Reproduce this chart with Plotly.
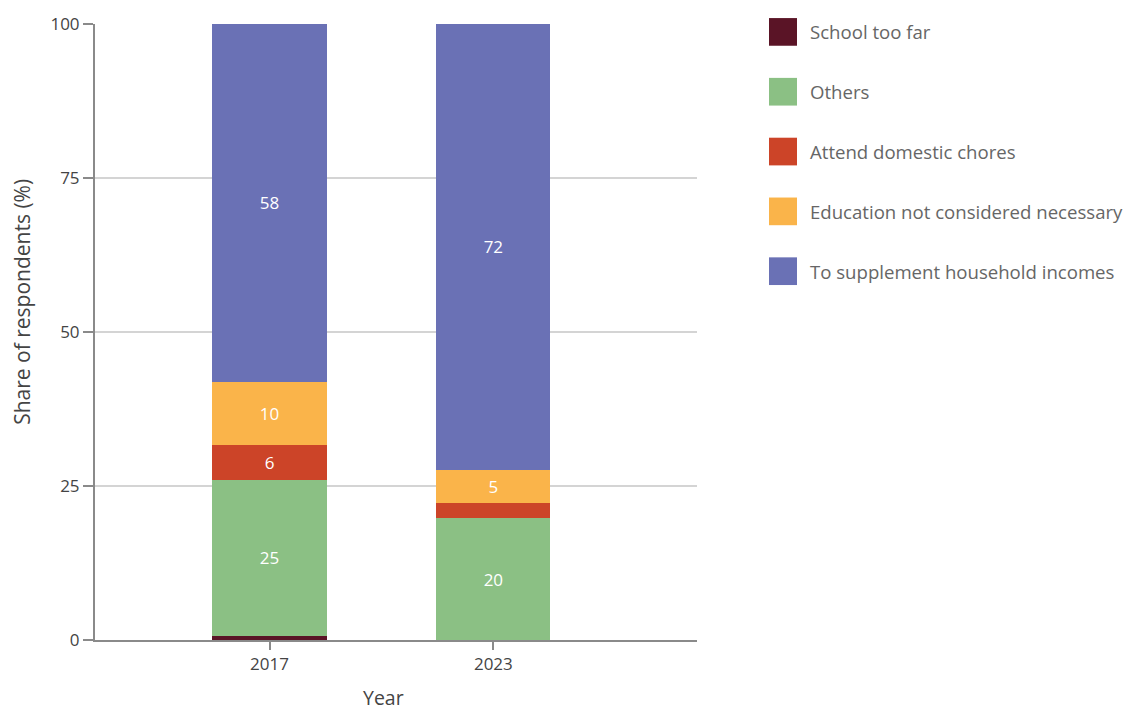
import plotly.graph_objects as go

# Survey years
years = ["2017", "2023"]

# Reasons for not attending school (share of respondents, %), stacked bottom to top
reasons = [
    "School too far",
    "Others",
    "Attend domestic chores",
    "Education not considered necessary",
    "To supplement household incomes",
]
school_too_far = [0.7, 0.0]
others = [25.3, 19.8]
domestic_chores = [5.6, 2.4]
education_not_necessary = [10.3, 5.4]
supplement_income = [58.1, 72.4]

series_values = [school_too_far, others, domestic_chores, education_not_necessary, supplement_income]
colors = ["#5a1426", "#8bc084", "#cc4428", "#fab44a", "#6a71b5"]

y_ticks = [0, 25, 50, 75, 100]

FONT = "'Open Sans', Lato, sans-serif"
W, H = 1128, 710
L, R, T, B = 95, 431, 17, 70

fig = go.Figure()
for name, vals, col in zip(reasons, series_values, colors):
    # only label segments tall enough to hold the number
    labels = [f"{v:.0f}" if v >= 4 else "" for v in vals]
    fig.add_trace(go.Bar(
        x=years, y=vals, name=name,
        marker=dict(color=col, line=dict(width=0)),
        width=0.51,
        text=labels, textposition="inside", insidetextanchor="middle",
        textfont=dict(color="white", size=17, family=FONT),
        showlegend=False,
    ))

# Legend drawn as large swatches with labels to the right of the plot
plot_w = W - L - R
plot_h = H - T - B

def px_x(px):
    return (px - L) / plot_w

def px_y(py):
    return (H - B - py) / plot_h

for i, (name, col) in enumerate(zip(reasons, colors)):
    cy = 25 + i * 60.5
    fig.add_shape(type="rect", xref="paper", yref="paper",
                  x0=px_x(769), x1=px_x(797), y0=px_y(cy + 14), y1=px_y(cy - 14),
                  fillcolor=col, line=dict(width=0))
    fig.add_annotation(xref="paper", yref="paper", x=px_x(808), y=px_y(cy),
                       text=name, showarrow=False, xanchor="left", yanchor="middle",
                       font=dict(size=18.6, color="#666666", family=FONT))

# Axis titles
fig.add_annotation(xref="paper", yref="paper", x=px_x(383), y=px_y(698),
                   text="Year", showarrow=False, xanchor="center", yanchor="middle",
                   font=dict(size=19.5, color="#444", family=FONT))
fig.add_annotation(xref="paper", yref="paper", x=px_x(22), y=px_y(298),
                   text="Share of respondents (%)", showarrow=False, textangle=-90,
                   xanchor="center", yanchor="middle",
                   font=dict(size=21, color="#444", family=FONT))

fig.update_layout(
    barmode="stack",
    width=W, height=H,
    margin=dict(l=L, r=R, t=T, b=B, pad=0),
    paper_bgcolor="white", plot_bgcolor="white",
    font=dict(family=FONT, color="#444"),
    xaxis=dict(
        type="category", range=[-0.78, 1.91],
        showline=True, linecolor="#8a8a8a", linewidth=2,
        ticks="outside", ticklen=8, tickwidth=2, tickcolor="#8a8a8a",
        tickfont=dict(size=17, color="#444"),
        showgrid=False, zeroline=False,
    ),
    yaxis=dict(
        range=[0, 100], tickvals=y_ticks,
        showline=True, linecolor="#8a8a8a", linewidth=2,
        ticks="outside", ticklen=10, tickwidth=2, tickcolor="#8a8a8a",
        tickfont=dict(size=17, color="#444"),
        showgrid=True, gridcolor="#d4d4d4", gridwidth=1.5,
        zeroline=False,
    ),
)

fig.write_html("out.html")
